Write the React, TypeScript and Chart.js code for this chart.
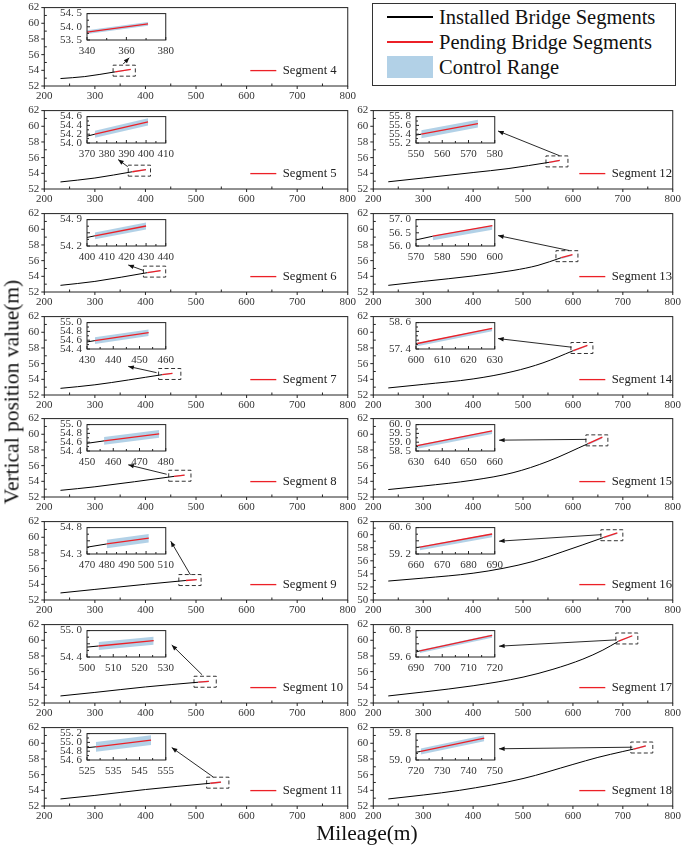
import { useEffect, useRef } from 'react';
import { Chart, registerables } from 'chart.js';

Chart.register(...registerables);

const SERIF = '"Liberation Serif", "Times New Roman", serif';
const RED = '#ec2027';
const BLUE = 'rgba(170, 204, 228, 0.9)';

Chart.defaults.font.family = SERIF;
Chart.defaults.color = '#333';

// one entry per panel, in the order of segmentNumbers
const segmentNumbers = [4, 5, 6, 7, 8, 9, 10, 11, 12, 13, 14, 15, 16, 17, 18];

// installed bridge profile (mileage, elevation)
const installedCurves = [
  [[232, 52.95], [280, 53.2], [340, 53.8]],
  [[232, 52.9], [300, 53.4], [374, 54.2]],
  [[232, 52.85], [300, 53.35], [404, 54.47]],
  [[232, 52.85], [300, 53.3], [433, 54.59]],
  [[232, 52.85], [300, 53.3], [456.5, 54.63]],
  [[232, 52.9], [300, 53.35], [400, 54.0], [480, 54.49]],
  [[232, 52.9], [300, 53.35], [400, 54.05], [504.4, 54.65]],
  [[232, 52.9], [300, 53.35], [400, 54.1], [528.4, 54.9]],
  [[230, 52.92], [300, 53.4], [400, 54.1], [470, 54.6], [552, 55.4]],
  [[230, 52.85], [300, 53.35], [400, 54.05], [480, 54.75], [530, 55.4], [576.4, 56.37]],
  [[230, 52.9], [300, 53.35], [400, 54.05], [480, 55.0], [540, 56.1], [600.5, 57.65]],
  [[230, 52.95], [300, 53.4], [400, 54.15], [480, 55.1], [550, 56.55], [630.5, 58.81]],
  [[230, 52.9], [300, 53.35], [400, 54.1], [460, 54.85], [520, 55.9], [580, 57.4], [620, 58.45], [661.5, 59.57]],
  [[230, 52.9], [300, 53.4], [400, 54.2], [500, 55.3], [560, 56.3], [620, 57.6], [660, 58.75], [691.5, 59.88]],
  [[230, 52.9], [300, 53.4], [373, 54.0], [500, 55.5], [600, 57.3], [650, 58.2], [700, 58.95], [721.8, 59.26]],
];

// pending segment: start and end point
const pendingStart = [
  [340, 53.8], [374, 54.2], [404, 54.47], [433, 54.59], [456.5, 54.63],
  [480, 54.49], [504.4, 54.65], [528.4, 54.9], [552, 55.4], [576.4, 56.37],
  [600.5, 57.65], [630.5, 58.81], [661.5, 59.57], [691.5, 59.88], [721.8, 59.26],
];
const pendingEnd = [
  [371, 54.11], [401, 54.48], [430, 54.73], [453.5, 54.77], [477.5, 54.79],
  [501.4, 54.6], [525.4, 54.77], [549.4, 55.05], [573.6, 55.64], [599.1, 56.77],
  [629, 58.34], [659, 59.64], [689, 60.26], [719, 60.58], [746, 59.66],
];

// control range around the pending segment
const bandBelow = [0.07, 0.08, 0.09, 0.075, 0.09, 0.08, 0.09, 0.11, 0.09, 0.15, 0.13, 0.18, 0.17, 0.1, 0.09];
const bandAbove = [0.07, 0.08, 0.09, 0.075, 0.09, 0.08, 0.09, 0.11, 0.09, 0.02, 0.02, 0.03, 0.03, 0.04, 0.09];

const mainXTicks = [200, 800, 100];
const mainYRange = [
  [52, 62], [52, 62], [52, 62], [52, 62], [52, 62], [52, 62], [52, 62], [52, 62],
  [52, 62], [52, 62], [52, 62], [52, 62], [50, 62], [52, 62], [52, 62],
];

const insetXRange = [
  [340, 380], [370, 410], [400, 440], [430, 460], [450, 480], [470, 510], [500, 530], [525, 555],
  [550, 580], [570, 600], [600, 630], [630, 660], [660, 690], [690, 720], [720, 750],
];
const insetXStep = [20, 10, 10, 10, 10, 10, 10, 10, 10, 10, 10, 10, 10, 10, 10];
const insetYRange = [
  [53.5, 54.5], [54.0, 54.6], [54.2, 54.9], [54.4, 55.0], [54.4, 55.0], [54.3, 54.8], [54.4, 55.0], [54.6, 55.2],
  [55.2, 55.8], [56.0, 57.0], [57.4, 58.6], [58.5, 60.0], [59.2, 60.6], [59.6, 60.8], [59.0, 59.8],
];
const insetYStep = [0.5, 0.2, 0.35, 0.2, 0.2, 0.25, 0.3, 0.2, 0.2, 0.5, 0.4, 0.5, 0.7, 0.6, 0.4];
const insetYEndsOnly = [false, false, true, false, false, true, true, false, false, false, true, false, true, true, true];

// zoom arrows in main-axis units: tail x, tail y, head x, head y
const arrows = [
  [356, 54.8, 368, 55.6], [365, 54.85, 346, 55.75], [396, 54.75, 366, 55.45], [422, 54.85, 366, 55.65],
  [442, 54.9, 366, 56.1], [489, 55.2, 450, 59.5], [512, 55.6, 452, 59.4], [534, 55.7, 452, 59.45],
  [573, 56.25, 450, 59.4], [592, 57.3, 450, 59.2], [597, 58.1, 450, 59.2], [627, 59.35, 452, 59.25],
  [657, 60.0, 452, 59.0], [687, 60.05, 452, 59.25], [719, 59.5, 452, 59.3],
];

const legendLabels = ['Installed Bridge Segments', 'Pending Bridge Segments', 'Control Range'];
const legendColors = ['#000', RED, BLUE];

const pts = (arr: number[][]) => arr.map(([x, y]) => ({ x, y }));

function stepTicks(min: number, max: number, step: number) {
  const out: { value: number }[] = [];
  for (let v = min; v <= max + 1e-6; v += step) out.push({ value: +v.toFixed(4) });
  return out;
}

// frame + tick marks; minor ticks inside, major ticks outside (main) or inside (inset)
function framePlugin(isInset: boolean, extra?: (chart: any) => void) {
  return {
    id: 'frame',
    beforeDraw(chart: any) {
      if (!isInset) return;
      const a = chart.chartArea;
      chart.ctx.save();
      chart.ctx.fillStyle = '#fff';
      chart.ctx.fillRect(a.left, a.top, a.width, a.height);
      chart.ctx.restore();
    },
    afterDraw(chart: any) {
      const { ctx, chartArea: a, scales } = chart;
      ctx.save();
      ctx.strokeStyle = '#222';
      ctx.lineWidth = 1;
      ctx.strokeRect(a.left, a.top, a.width, a.height);
      const major = isInset ? -3 : 3;
      const minor = isInset ? -2 : -2.5;
      ctx.beginPath();
      const xv = scales.x.ticks.map((t: any) => t.value);
      const yv = scales.y.ticks.map((t: any) => t.value);
      xv.forEach((v: number, k: number) => {
        const p = scales.x.getPixelForValue(v);
        ctx.moveTo(p, a.bottom);
        ctx.lineTo(p, a.bottom + major);
        if (k > 0) {
          const m = scales.x.getPixelForValue((v + xv[k - 1]) / 2);
          ctx.moveTo(m, a.bottom);
          ctx.lineTo(m, a.bottom + minor);
        }
      });
      yv.forEach((v: number, k: number) => {
        const p = scales.y.getPixelForValue(v);
        ctx.moveTo(a.left, p);
        ctx.lineTo(a.left - major, p);
        if (k > 0) {
          const m = scales.y.getPixelForValue((v + yv[k - 1]) / 2);
          ctx.moveTo(a.left, m);
          ctx.lineTo(a.left - minor, m);
        }
      });
      ctx.stroke();
      ctx.restore();
      if (extra) extra(chart);
    },
  };
}

function Panel({ i }: { i: number }) {
  const mainRef = useRef<HTMLCanvasElement>(null);
  const insetRef = useRef<HTMLCanvasElement>(null);
  const n = segmentNumbers[i];
  const leftCol = n <= 11;
  const row = leftCol ? n - 4 : n - 11;
  const plotX = leftCol ? 44.3 : 373.3;
  const plotY = 4 + row * 102.85;
  const canvasX = leftCol ? 0 : 340;
  const canvasW = leftCol ? 360 : 345;
  const yAxisW = plotX - canvasX;
  const padRight = leftCol ? 12 : 11.7;

  useEffect(() => {
    if (!mainRef.current || !insetRef.current) return;
    const pend = [pendingStart[i], pendingEnd[i]];
    const upper = pend.map(([x, y]) => ({ x, y: y + bandAbove[i] }));
    const lower = pend.map(([x, y]) => ({ x, y: y - bandBelow[i] }));
    const [ymin, ymax] = mainYRange[i];
    const span = ymax - ymin;
    const bx0 = insetXRange[i][0] - 4;
    const bx1 = bx0 + 44;
    const mid = (pend[0][1] + pend[1][1]) / 2;
    const by0 = mid - 0.07 * span;
    const by1 = mid + 0.07 * span;
    const box = pts([[bx0, by0], [bx1, by0], [bx1, by1], [bx0, by1], [bx0, by0]]);

    const lineSets = [
      { label: `Segment ${n}`, data: pts(pend), borderColor: RED, borderWidth: 1.3, pointRadius: 0, order: 0 },
      {
        label: legendLabels[0], data: pts(installedCurves[i]), borderColor: '#000', borderWidth: 1,
        pointRadius: 0, cubicInterpolationMode: 'monotone', order: 1,
      },
    ];
    const bandSets = [
      { label: 'upper', data: upper, borderWidth: 0, borderColor: 'rgba(0,0,0,0)', pointRadius: 0, fill: false, order: 3 },
      {
        label: legendLabels[2], data: lower, borderWidth: 0, borderColor: 'rgba(0,0,0,0)', pointRadius: 0,
        fill: '-1', backgroundColor: BLUE, order: 3,
      },
    ];

    const drawExtras = (chart: any) => {
      const { ctx, chartArea: a, scales } = chart;
      // zoom arrow
      const [tx, ty, hx, hy] = arrows[i];
      const px0 = scales.x.getPixelForValue(tx);
      const py0 = scales.y.getPixelForValue(ty);
      const px1 = scales.x.getPixelForValue(hx);
      const py1 = scales.y.getPixelForValue(hy);
      const ang = Math.atan2(py1 - py0, px1 - px0);
      ctx.save();
      ctx.strokeStyle = '#111';
      ctx.fillStyle = '#111';
      ctx.lineWidth = 0.9;
      ctx.beginPath();
      ctx.moveTo(px0, py0);
      ctx.lineTo(px1, py1);
      ctx.stroke();
      ctx.beginPath();
      ctx.moveTo(px1, py1);
      ctx.lineTo(px1 - 6 * Math.cos(ang - 0.38), py1 - 6 * Math.sin(ang - 0.38));
      ctx.lineTo(px1 - 6 * Math.cos(ang + 0.38), py1 - 6 * Math.sin(ang + 0.38));
      ctx.closePath();
      ctx.fill();
      // segment legend
      const ds = chart.data.datasets[0];
      const ly = a.top + 63;
      ctx.strokeStyle = ds.borderColor;
      ctx.lineWidth = 1.3;
      ctx.beginPath();
      ctx.moveTo(a.left + 206, ly);
      ctx.lineTo(a.left + 232, ly);
      ctx.stroke();
      ctx.fillStyle = '#222';
      ctx.font = `12.7px ${SERIF}`;
      ctx.textBaseline = 'middle';
      ctx.fillText(ds.label, a.left + 238.5, ly + 0.5);
      ctx.restore();
    };

    const noGrid = { display: false, drawTicks: false };

    const main = new Chart(mainRef.current, {
      type: 'line',
      data: {
        datasets: [
          ...lineSets,
          { label: 'zoom box', data: box, borderColor: '#333', borderWidth: 1, borderDash: [4, 2.5], pointRadius: 0, order: 2 },
          ...bandSets,
        ] as any,
      },
      options: {
        animation: false,
        responsive: false,
        layout: { padding: { top: 8, right: padRight, left: 0, bottom: 0 } },
        plugins: { legend: { display: false }, tooltip: { enabled: false } },
        scales: {
          x: {
            type: 'linear', min: mainXTicks[0], max: mainXTicks[1],
            grid: noGrid, border: { display: false },
            afterBuildTicks: (s: any) => { s.ticks = stepTicks(mainXTicks[0], mainXTicks[1], mainXTicks[2]); },
            afterFit: (s: any) => { s.height = 18; },
            ticks: { font: { size: 11 }, padding: 4, maxRotation: 0, autoSkip: false, color: '#333' },
          },
          y: {
            type: 'linear', min: ymin, max: ymax,
            grid: noGrid, border: { display: false },
            afterBuildTicks: (s: any) => { s.ticks = stepTicks(ymin, ymax, 2); },
            afterFit: (s: any) => { s.width = yAxisW; },
            ticks: { font: { size: 11 }, padding: 5, autoSkip: false, color: '#333' },
          },
        },
      } as any,
      plugins: [framePlugin(false, drawExtras)],
    });

    const [ix0, ix1] = insetXRange[i];
    const [iy0, iy1] = insetYRange[i];
    const inset = new Chart(insetRef.current, {
      type: 'line',
      data: { datasets: [...lineSets, ...bandSets] as any },
      options: {
        animation: false,
        responsive: false,
        layout: { padding: { top: 7, right: 10, left: 0, bottom: 0 } },
        plugins: { legend: { display: false }, tooltip: { enabled: false } },
        scales: {
          x: {
            type: 'linear', min: ix0, max: ix1,
            grid: noGrid, border: { display: false },
            afterBuildTicks: (s: any) => { s.ticks = stepTicks(ix0, ix1, insetXStep[i]); },
            afterFit: (s: any) => { s.height = 17; },
            ticks: { font: { size: 11 }, padding: 5, maxRotation: 0, autoSkip: false, color: '#333' },
          },
          y: {
            type: 'linear', min: iy0, max: iy1,
            grid: noGrid, border: { display: false },
            afterBuildTicks: (s: any) => { s.ticks = stepTicks(iy0, iy1, insetYStep[i]); },
            afterFit: (s: any) => { s.width = 34; },
            ticks: {
              font: { size: 11 }, padding: 5, autoSkip: false, color: '#333',
              callback: (v: any) => {
                const val = Number(v);
                if (insetYEndsOnly[i] && Math.abs(val - iy0) > 1e-6 && Math.abs(val - iy1) > 1e-6) return '';
                return val.toFixed(1).replace('.', '. ');
              },
            },
          },
        },
      } as any,
      plugins: [framePlugin(true)],
    });

    return () => {
      main.destroy();
      inset.destroy();
    };
  }, []);

  return (
    <>
      <canvas ref={mainRef} width={canvasW} height={108} style={{ position: 'absolute', left: canvasX, top: plotY - 8 }} />
      <canvas ref={insetRef} width={126} height={55} style={{ position: 'absolute', left: plotX + 43 - 34, top: plotY + 5 - 7 }} />
    </>
  );
}

export default function App() {
  return (
    <div style={{ position: 'absolute', left: 0, top: 0, width: 685, height: 849, background: '#fff', overflow: 'hidden', fontFamily: SERIF }}>
      {segmentNumbers.map((n, i) => <Panel key={n} i={i} />)}
      <div style={{ position: 'absolute', left: 372, top: 3, width: 302, height: 81, border: '1.3px solid #333', background: '#fff' }}>
        {legendLabels.map((t, k) => (
          <div key={t} style={{ position: 'absolute', left: 14, top: 13 + k * 25, height: 0 }}>
            <div style={{
              position: 'absolute', left: 0, width: 46,
              top: k === 2 ? -11 : -0.6, height: k === 2 ? 22 : 1.3, background: legendColors[k],
            }} />
            <div style={{ position: 'absolute', left: 52, top: -13, fontSize: 20.5, lineHeight: '26px', whiteSpace: 'nowrap', color: '#111' }}>{t}</div>
          </div>
        ))}
      </div>
      <div style={{
        position: 'absolute', left: 12, top: 392, transform: 'translate(-50%, -50%) rotate(-90deg)',
        fontSize: 21.5, whiteSpace: 'nowrap', color: '#111',
      }}>Vertical position value(m)</div>
      <div style={{
        position: 'absolute', left: 367, top: 833, transform: 'translate(-50%, -50%)',
        fontSize: 21.5, whiteSpace: 'nowrap', color: '#111',
      }}>Mileage(m)</div>
    </div>
  );
}
